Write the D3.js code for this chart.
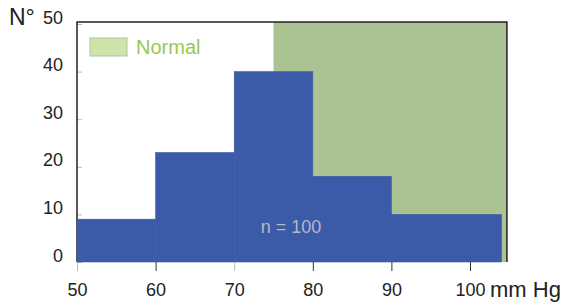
<!DOCTYPE html>
<html>
<head>
<meta charset="utf-8">
<script src="https://cdn.jsdelivr.net/npm/d3@7"></script>
<style>
  body { margin: 0; background: #fff; }
  svg { font-family: "Liberation Sans", Arial, sans-serif; }
</style>
</head>
<body>
<svg width="568" height="304"></svg>
<script>
// data
const binStarts = [50, 60, 70, 80, 90];
const binEnds = [60, 70, 80, 90, 104];
const counts = [9, 23, 40, 18, 10];
const normalRange = [75, 104.7];
const xTicks = [50, 60, 70, 80, 90, 100];
const yTicks = [0, 10, 20, 30, 40, 50];

const svg = d3.select('svg');

//Scales
const xScale = d3.scaleLinear().domain([50, 100]).range([77, 470]);
const yScale = d3.scaleLinear().domain([0, 50]).range([262, 24]);
const xMax = normalRange[1];
const frameTop = yScale(50) - 2;

// normal zone (behind everything)
svg.append('rect')
    .attr('x', xScale(normalRange[0]))
    .attr('y', frameTop)
    .attr('width', xScale(normalRange[1]) - xScale(normalRange[0]))
    .attr('height', yScale(0) - frameTop)
    .attr('fill', '#abc392');

// y axis, ticks pointing inside
const yAxis = d3.axisLeft(yScale).tickValues(yTicks).tickSize(-5).tickPadding(14);
const yAxisGroup = svg.append('g')
    .attr('transform', 'translate(' + xScale(50) + ',0)')
    .call(yAxis);
yAxisGroup.select('.domain').remove();
yAxisGroup.selectAll('line').attr('stroke', '#bbb');
yAxisGroup.selectAll('text')
    .attr('font-size', 18).attr('fill', '#222')
    .attr('dy', '-0.05em');

// frame: left, top, right
svg.append('path')
    .attr('d', 'M' + xScale(50) + ',' + yScale(0) + 'V' + frameTop + 'H' + xScale(xMax) + 'V' + yScale(0))
    .attr('fill', 'none')
    .attr('stroke', '#222')
    .attr('stroke-width', 1.5);

// bars
const bins = binStarts.map((s, i) => ({ x0: s, x1: binEnds[i], n: counts[i] }));
svg.selectAll('rect.bar')
    .data(bins)
    .join('rect')
    .attr('class', 'bar')
    .attr('x', d => xScale(d.x0))
    .attr('y', d => yScale(d.n))
    .attr('width', d => xScale(d.x1) - xScale(d.x0))
    .attr('height', d => yScale(0) - yScale(d.n))
    .attr('fill', '#3b5aa7')
    .attr('stroke', '#3b5aa7')
    .attr('stroke-width', 0.6);

// x axis
const xAxis = d3.axisBottom(xScale).tickValues(xTicks).tickSize(9).tickPadding(12);
const xAxisGroup = svg.append('g')
    .attr('transform', 'translate(0,' + yScale(0) + ')')
    .call(xAxis);
xAxisGroup.select('.domain').remove();
xAxisGroup.selectAll('line').attr('stroke', d => (d === 50 || d === 70) ? '#bbb' : '#333');
xAxisGroup.selectAll('text').attr('font-size', 18).attr('fill', '#222');

// unit labels
svg.append('text')
    .attr('x', 490).attr('y', 297)
    .attr('font-size', 22).attr('fill', '#222')
    .text('mm Hg');
svg.append('text')
    .attr('x', 9).attr('y', 25)
    .attr('font-size', 23).attr('fill', '#222')
    .text('N°');

// legend
svg.append('rect')
    .attr('x', 90).attr('y', 38)
    .attr('width', 37).attr('height', 18)
    .attr('fill', '#cfe4a9')
    .attr('stroke', '#b5bdaa');
svg.append('text')
    .attr('x', 136).attr('y', 54)
    .attr('font-size', 20).attr('fill', '#97c950')
    .text('Normal');

// sample size
svg.append('text')
    .attr('x', 291).attr('y', 233)
    .attr('text-anchor', 'middle')
    .attr('font-size', 18).attr('fill', '#b4b9c6')
    .text('n = 100');
</script>
</body>
</html>
